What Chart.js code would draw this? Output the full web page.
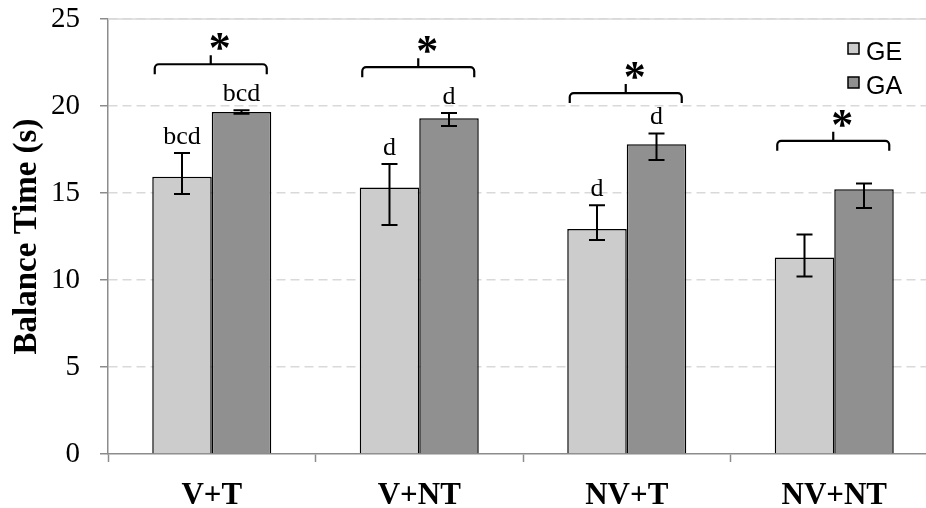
<!DOCTYPE html>
<html><head><meta charset="utf-8">
<script src="https://cdn.jsdelivr.net/npm/chart.js@4"></script>
<style>html,body{margin:0;padding:0;overflow:hidden;background:#fff;width:926px;height:508px}#wrap{width:940px;height:508px}</style>
</head><body><div id="wrap"><canvas id="c" width="940" height="508"></canvas></div>
<script>
const categories = ['V+T', 'V+NT', 'NV+T', 'NV+NT'];
const seriesNames = ['GE', 'GA'];
const geValues = [15.93, 15.32, 12.93, 11.30];
const gaValues = [19.66, 19.30, 17.80, 15.22];
const geErrPlus = [1.37, 1.34, 1.37, 1.32];
const geErrMinus = [0.99, 2.16, 0.63, 1.10];
const gaErrPlus = [0.09, 0.30, 0.62, 0.33];
const gaErrMinus = [0.11, 0.45, 0.90, 1.08];
const geLetters = ['bcd', 'd', 'd', ''];
const gaLetters = ['bcd', 'd', 'd', ''];
const bracketLevels = [22.4, 22.23, 20.74, 18.0];
const bracketMarks = ['*', '*', '*', '*'];
const yTicks = [0, 5, 10, 15, 20, 25];

const colors = ['#cccccc', '#909090'];
const errPlus = [geErrPlus, gaErrPlus];
const errMinus = [geErrMinus, gaErrMinus];
const letters = [geLetters, gaLetters];
const SERIF = '"Liberation Serif", "Times New Roman", serif';
const SANS = '"Liberation Sans", Arial, sans-serif';

const annot = {
  id: 'annot',
  afterDatasetsDraw(chart) {
    const ctx = chart.ctx;
    const ys = chart.scales.y, xs = chart.scales.x;
    const ca = chart.chartArea;
    ctx.save();
    // solid top gridline
    ctx.strokeStyle = '#d9d9d9'; ctx.lineWidth = 1.5;
    ctx.beginPath(); ctx.moveTo(ca.left, ys.getPixelForValue(25)); ctx.lineTo(ca.right, ys.getPixelForValue(25)); ctx.stroke();
    // error bars and letters
    chart.data.datasets.forEach((ds, i) => {
      const meta = chart.getDatasetMeta(i);
      meta.data.forEach((bar, j) => {
        const v = ds.data[j];
        const yt = ys.getPixelForValue(v + errPlus[i][j]);
        const yb = ys.getPixelForValue(v - errMinus[i][j]);
        ctx.strokeStyle = '#000'; ctx.lineWidth = 2;
        ctx.beginPath();
        ctx.moveTo(bar.x, yt); ctx.lineTo(bar.x, yb);
        ctx.moveTo(bar.x - 8, yt); ctx.lineTo(bar.x + 8, yt);
        ctx.moveTo(bar.x - 8, yb); ctx.lineTo(bar.x + 8, yb);
        ctx.stroke();
        if (letters[i][j]) {
          ctx.fillStyle = '#000';
          ctx.font = '26px ' + SERIF;
          ctx.textAlign = 'center'; ctx.textBaseline = 'bottom';
          ctx.fillText(letters[i][j], bar.x, yt - 3);
        }
      });
    });
    // brackets with stars
    bracketLevels.forEach((lvl, j) => {
      const cx = xs.getPixelForValue(j);
      const yb = ys.getPixelForValue(lvl);
      const l = cx - 57, r = cx + 55, rad = 4;
      ctx.strokeStyle = '#000'; ctx.lineWidth = 2.2;
      ctx.beginPath();
      ctx.moveTo(l, yb + 10);
      ctx.arcTo(l, yb, l + rad, yb, rad);
      ctx.lineTo(r - rad, yb);
      ctx.arcTo(r, yb, r, yb + 10, rad);
      ctx.lineTo(r, yb + 10);
      ctx.moveTo(cx - 1, yb); ctx.lineTo(cx - 1, yb - 9);
      ctx.stroke();
      ctx.fillStyle = '#000';
      ctx.font = 'bold 44px ' + SERIF;
      ctx.textAlign = 'center'; ctx.textBaseline = 'alphabetic';
      ctx.fillText(bracketMarks[j], cx + 8, yb - 2);
    });
    // legend
    const lx = ca.right - 90;
    seriesNames.forEach((n, i) => {
      const ly = 43 + i * 34;
      ctx.fillStyle = colors[i];
      ctx.fillRect(lx, ly, 11, 11);
      ctx.strokeStyle = '#000'; ctx.lineWidth = 1.5;
      ctx.strokeRect(lx, ly, 11, 11);
      ctx.fillStyle = '#000';
      ctx.font = '25px ' + SANS;
      ctx.textAlign = 'left'; ctx.textBaseline = 'middle';
      ctx.fillText(n, lx + 18, ly + 10);
    });
    ctx.restore();
  }
};

new Chart(document.getElementById('c'), {
  type: 'bar',
  data: {
    labels: categories,
    datasets: [
      { label: seriesNames[0], data: geValues, backgroundColor: colors[0], borderColor: '#000', borderWidth: 1.5 },
      { label: seriesNames[1], data: gaValues, backgroundColor: colors[1], borderColor: '#000', borderWidth: 1.5 }
    ]
  },
  options: {
    responsive: false,
    animation: false,
    devicePixelRatio: 1,
    categoryPercentage: 0.5735,
    barPercentage: 1,
    layout: { padding: { top: 0, right: 2, left: 0, bottom: 0 } },
    plugins: { legend: { display: false }, tooltip: { enabled: false } },
    scales: {
      x: {
        grid: { drawOnChartArea: false, drawTicks: true, tickLength: 8, tickColor: '#8c8c8c', tickWidth: 1.5, offset: true },
        border: { color: '#8c8c8c', width: 1.5 },
        ticks: { color: '#000', font: { family: SERIF, size: 31, weight: 'bold' }, padding: 15 },
        afterFit(s) { s.height = 54; s.paddingLeft = 0; s.paddingRight = 0; }
      },
      y: {
        min: 0, max: 25,
        afterBuildTicks(s) { s.ticks = yTicks.map(v => ({ value: v })); },
        grid: { color: (c) => (c.tick && c.tick.value === 0) ? 'rgba(0,0,0,0)' : '#d9d9d9', lineWidth: 1.5, tickLength: 8, tickColor: '#8c8c8c', tickWidth: 1.5 },
        border: { color: '#8c8c8c', width: 1.5, dash: [9, 5] },
        ticks: { color: '#000', font: { family: SERIF, size: 29 }, padding: 20 },
        title: { display: true, text: 'Balance Time (s)', color: '#000', font: { family: SERIF, size: 33, weight: 'bold' }, padding: { top: 8, bottom: 0 } },
        afterFit(s) { s.width = 108; s.paddingTop = 19; s.paddingBottom = 0; }
      }
    }
  },
  plugins: [annot]
});
</script></body></html>
